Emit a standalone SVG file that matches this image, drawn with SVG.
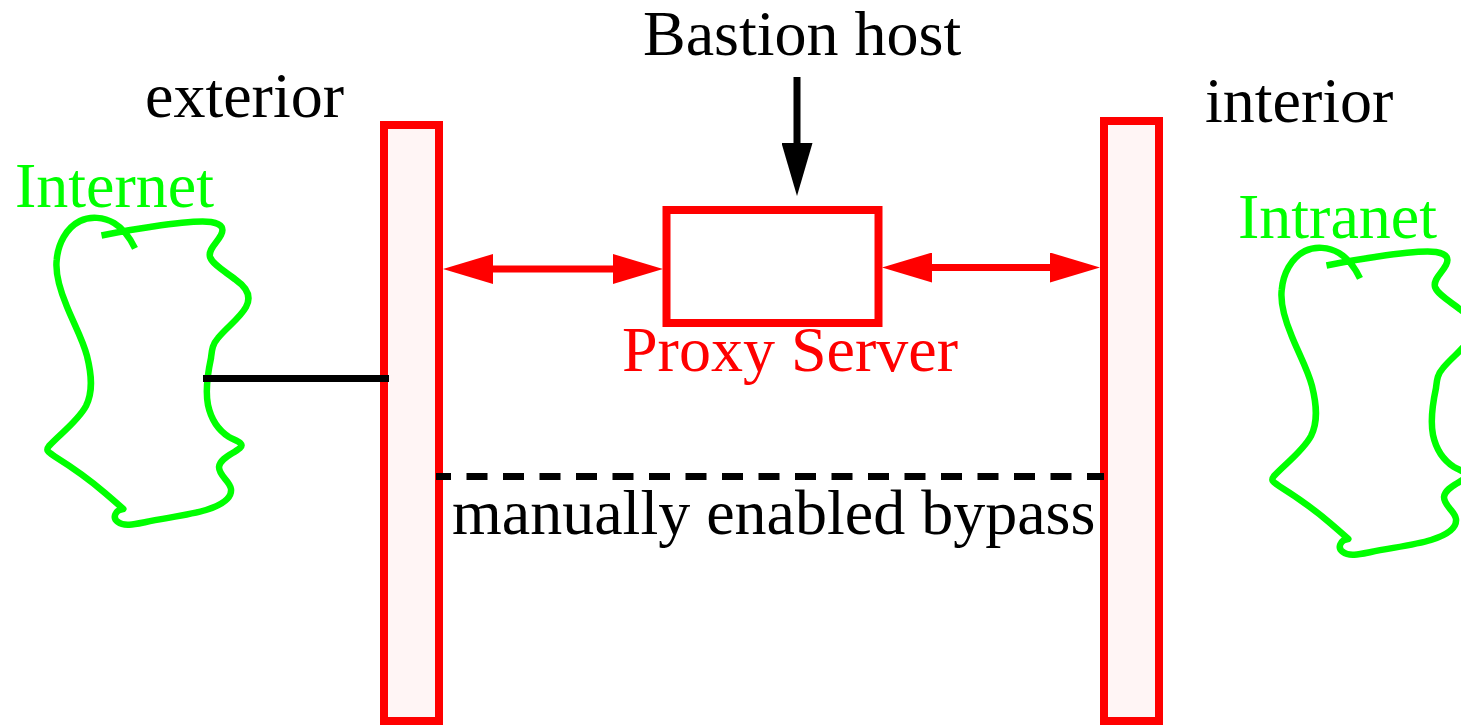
<svg xmlns="http://www.w3.org/2000/svg" xmlns:xlink="http://www.w3.org/1999/xlink" width="1461" height="725" viewBox="0 0 1461 725">
  <style>
    .lbl { font-family: "Liberation Serif", "Times New Roman", serif; font-size: 64px; }
    .black { fill: #000000; }
    .green { fill: #00ff00; }
    .red { fill: #ff0000; }
    .wall { fill: #fff5f5; stroke: #ff0000; stroke-width: 8; }
    .box { fill: #ffffff; stroke: #ff0000; stroke-width: 8; }
    .cloud { fill: none; stroke: #00ff00; stroke-width: 6.5; stroke-linecap: butt; stroke-linejoin: round; }
    .link { stroke: #ff0000; stroke-width: 7; fill: none; }
    .plain { stroke: #000000; stroke-width: 7; fill: none; }
    .bypass { stroke: #000000; stroke-width: 7; fill: none; stroke-dasharray: 21 15.5; stroke-dashoffset: 6; }
  </style>
  <defs>
    <marker id="headRed" viewBox="0 0 50 30" refX="0" refY="15" markerWidth="50" markerHeight="30" markerUnits="userSpaceOnUse" orient="auto-start-reverse">
      <path d="M0,0 L50,15 L0,30 z" fill="#ff0000"/>
    </marker>
    <marker id="headBlack" viewBox="0 0 53 31" refX="0" refY="15.5" markerWidth="53" markerHeight="31" markerUnits="userSpaceOnUse" orient="auto">
      <path d="M0,0 L53,15.5 L0,31 z" fill="#000000"/>
    </marker>
    <path id="cloudShape" class="cloud" d="M135,248.3 C130,238 124,229 114,223 C104,217 90,216 80,221 C66,228 58,244 56.7,260 C55,275 60,290 66.7,306 C73,322 83,340 87,356 C92,376 93,392 86,406 C78,421 60,434 49,446 C45,451 49,452 54,456 C70,466 90,480 105,493 C112,499 119,505 123.3,509 C115,510 112,518 118,522 C124,527 136,524 146,522 C165,518 190,515 206,510 C222,505 232,498 231,489 C230,481 219,476 219,467 C220,458 233,454 240,448 C245,443 236,441 229,437 C218,430 211,419 208,405 C205,390 208,372 211,358 C212,350 212,345 218,338 C227,327 240,318 246,307 C252,296 246,287 236,280 C226,272 213,265 210,257 C208,249 217,243 221,235 C224,229 223,224 211,222 C195,220 170,224 150,227 C135,229 119,232 101.5,235.5"/>
  </defs>

  <!-- firewall walls -->
  <g id="wall-exterior">
    <rect class="wall" x="384" y="125" width="55" height="596"/>
  </g>
  <g id="wall-interior">
    <rect class="wall" x="1104" y="121" width="55" height="600"/>
  </g>

  <!-- networks -->
  <g id="internet">
    <use xlink:href="#cloudShape" href="#cloudShape"/>
    <text class="lbl green" x="15" y="207">Internet</text>
  </g>
  <g id="intranet">
    <use xlink:href="#cloudShape" href="#cloudShape" transform="translate(1225,30)"/>
    <text class="lbl green" x="1238" y="238">Intranet</text>
  </g>

  <!-- proxy server on the bastion host -->
  <g id="proxy-server">
    <rect class="box" x="666.5" y="210" width="212" height="113"/>
    <text class="lbl red" x="622" y="371">Proxy Server</text>
  </g>

  <!-- zone labels -->
  <g id="label-exterior">
    <text class="lbl black" x="145" y="117">exterior</text>
  </g>
  <g id="label-interior">
    <text class="lbl black" x="1205" y="122">interior</text>
  </g>
  <g id="label-bastion">
    <text class="lbl black" x="643" y="55">Bastion host</text>
  </g>
  <g id="label-bypass">
    <text class="lbl black" x="452" y="534">manually enabled bypass</text>
  </g>

  <!-- connectors -->
  <g id="connectors">
    <line class="link" x1="493" y1="269" x2="613" y2="269" marker-start="url(#headRed)" marker-end="url(#headRed)"/>
    <line class="link" x1="932" y1="267.5" x2="1050" y2="267.5" marker-start="url(#headRed)" marker-end="url(#headRed)"/>
    <line class="plain" x1="797" y1="77" x2="797" y2="143" marker-end="url(#headBlack)"/>
    <line class="plain" x1="203" y1="378.5" x2="389" y2="378.5"/>
    <line class="bypass" x1="436" y1="476.5" x2="1104" y2="476.5"/>
  </g>
</svg>
